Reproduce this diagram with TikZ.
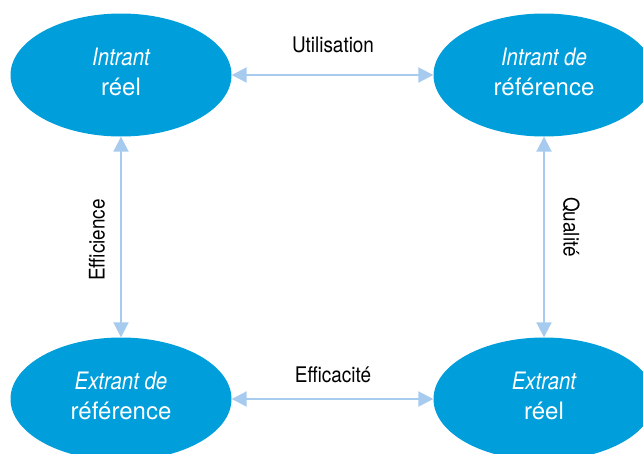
\documentclass[tikz,border=0pt]{standalone}
\usepackage{fontspec}
\setmainfont{TeX Gyre Heros}
\newfontfamily\condfont{TeX Gyre Heros}[FakeStretch=0.88]
\newfontfamily\conditfont{TeX Gyre Heros}[FakeStretch=0.85]
\usetikzlibrary{arrows.meta,shapes.geometric}
\definecolor{ellblue}{RGB}{0,158,219}
\definecolor{arrblue}{RGB}{166,203,238}
\tikzset{
  ell/.style={ellipse, fill=ellblue, minimum width=221pt, minimum height=123pt,
    inner sep=0pt},
  elltext/.style={text=white, align=center, inner sep=0pt,
    font=\fontsize{24pt}{30pt}\selectfont},
  conn/.style={draw=arrblue, line width=2pt,
    {Triangle[width=15pt,length=15pt,fill=arrblue]}-{Triangle[width=15pt,length=15pt,fill=arrblue]}},
  lbl/.style={text=black, inner sep=0pt, font=\condfont\fontsize{21.5pt}{24pt}\selectfont}
}
\newcommand{\itl}[1]{{\conditfont\itshape #1}}
\begin{document}
\begin{tikzpicture}[x=1pt,y=-1pt]
\useasboundingbox (0,0) rectangle (643,453);
\begin{scope}
\clip (0,0) rectangle (643,453);
\node[ell] (ir) at (121,75) {};
\node[ell] (iref) at (544,75) {};
\node[ell] (eref) at (121,399) {};
\node[ell] (er) at (544,399) {};
\end{scope}
\node[elltext] (irt) at ([yshift=3pt]ir.center) {\itl{Intrant}\\réel};
\node[elltext] (ireft) at ([yshift=3pt]iref.center) {\itl{Intrant de}\\référence};
\node[elltext] (ereft) at ([yshift=3pt]eref.center) {\itl{Extrant de}\\référence};
\node[elltext] (ert) at ([yshift=3pt]er.center) {\itl{Extrant}\\réel};
\draw[conn] (ir.east) -- (iref.west);
\draw[conn] (eref.east) -- (er.west);
\draw[conn] (ir.south) -- (eref.north);
\draw[conn] (iref.south) -- (er.north);
\node[lbl] (lu) at (333,45) {Utilisation};
\node[lbl] (le) at (333,375) {Efficacité};
\node[lbl, rotate=90] (lf) at (97,240) {Efficience};
\node[lbl, rotate=-90] (lq) at (571,227) {Qualité};
\end{tikzpicture}
\end{document}
